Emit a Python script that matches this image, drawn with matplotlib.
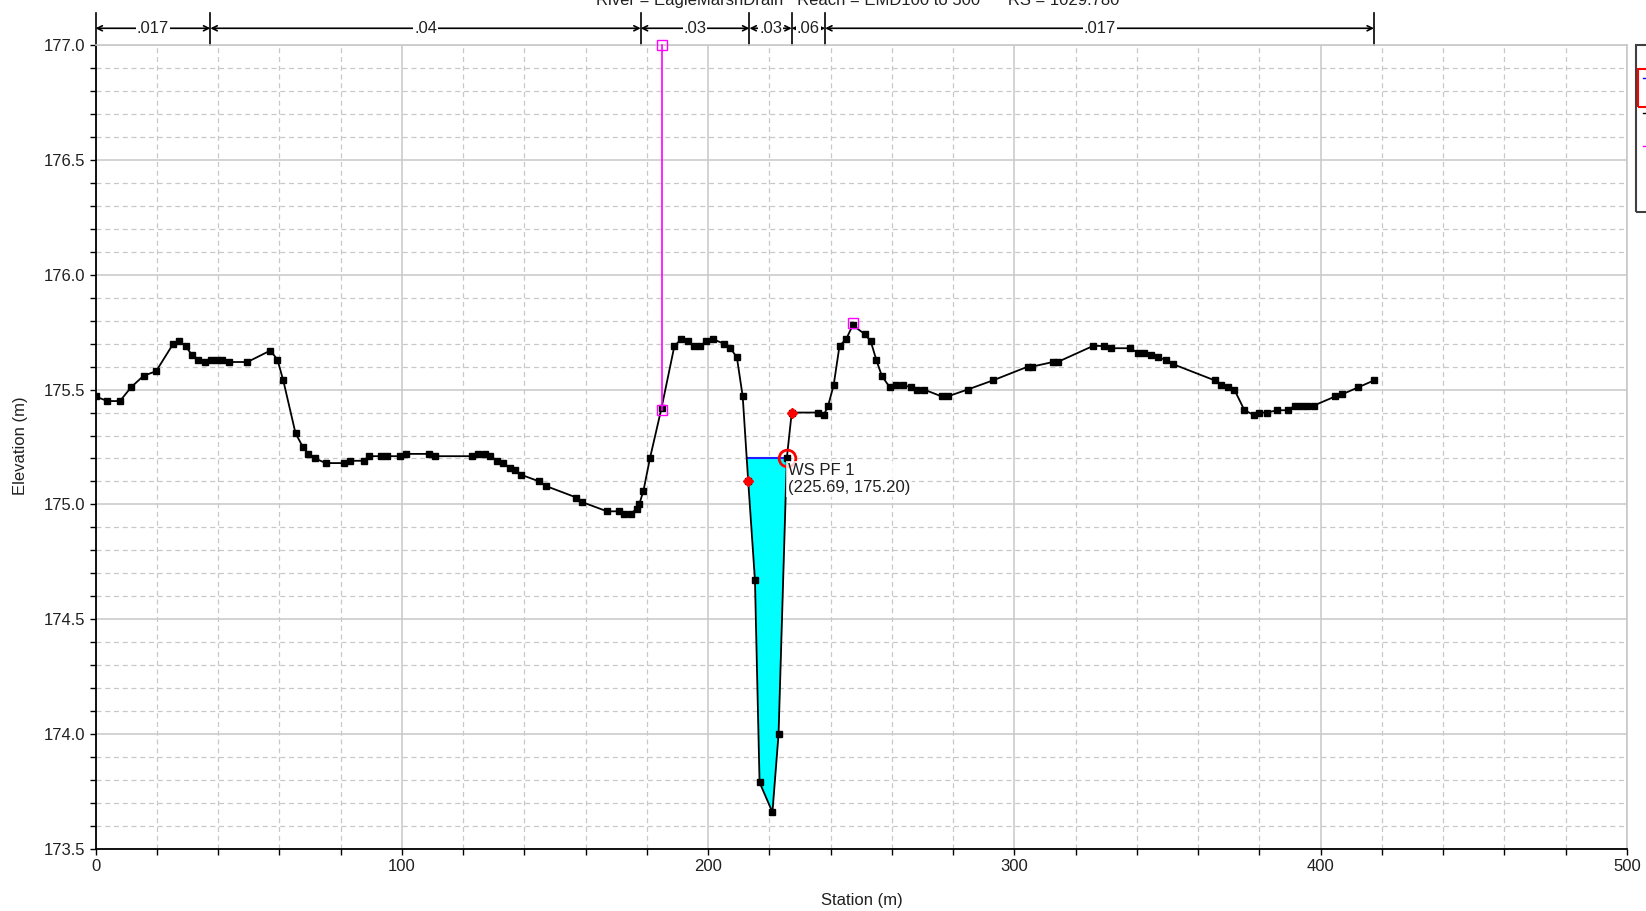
import numpy as np
import matplotlib
matplotlib.use('Agg')
import matplotlib.pyplot as plt
from matplotlib.patches import Rectangle
from matplotlib.ticker import MultipleLocator, FormatStrFormatter

# ---------------- data ----------------
station = [0, 3.9, 8.0, 11.6, 15.7, 19.8, 25.4, 27.3, 29.4, 31.5, 33.6, 35.6, 37.6, 39.7,
           41.4, 43.5, 49.6, 57.1, 59.4, 61.3, 65.3, 67.7, 69.5, 71.8, 75.1, 81.0, 83.1,
           87.6, 89.2, 93.3, 95.2, 99.3, 101.3, 109.0, 111.0, 122.8, 125.0, 127.0, 128.9,
           131.2, 133.1, 135.3, 137.0, 138.8, 144.9, 147.1, 157.0, 158.9, 167.0, 170.8,
           172.7, 174.7, 176.7, 177.5, 178.9, 181.0, 184.8, 189.0, 191.3, 193.5, 195.5,
           197.4, 199.4, 201.5, 205.1, 207.3, 209.4, 211.3, 213.1, 215.3, 216.8, 221.0,
           223.0, 225.69, 227.3, 236.0, 237.8, 239.2, 241.0, 242.9, 245.1, 247.2, 251.3,
           253.1, 254.9, 256.7, 259.3, 261.3, 263.7, 266.1, 268.3, 270.5, 276.3, 278.2,
           284.7, 293.0, 304.4, 305.8, 312.6, 314.1, 325.7, 329.4, 331.5, 337.8, 340.3,
           342.4, 344.6, 346.8, 349.4, 351.9, 365.4, 367.6, 369.8, 371.8, 375.1, 378.1,
           379.9, 382.4, 385.8, 389.2, 391.6, 393.6, 395.5, 397.7, 404.7, 407.1, 412.3,
           417.4]
elevation = [175.47, 175.45, 175.45, 175.51, 175.56, 175.58, 175.70, 175.71, 175.69, 175.65,
             175.63, 175.62, 175.63, 175.63, 175.63, 175.62, 175.62, 175.67, 175.63, 175.54,
             175.31, 175.25, 175.22, 175.20, 175.18, 175.18, 175.19, 175.19, 175.21, 175.21,
             175.21, 175.21, 175.22, 175.22, 175.21, 175.21, 175.22, 175.22, 175.21, 175.19,
             175.18, 175.16, 175.15, 175.13, 175.10, 175.08, 175.03, 175.01, 174.97, 174.97,
             174.96, 174.96, 174.98, 175.00, 175.06, 175.20, 175.42, 175.69, 175.72, 175.71,
             175.69, 175.69, 175.71, 175.72, 175.70, 175.68, 175.64, 175.47, 175.10, 174.67,
             173.79, 173.66, 174.00, 175.20, 175.40, 175.40, 175.39, 175.43, 175.52, 175.69,
             175.72, 175.78, 175.74, 175.71, 175.63, 175.56, 175.51, 175.52, 175.52, 175.51,
             175.50, 175.50, 175.47, 175.47, 175.50, 175.54, 175.60, 175.60, 175.62, 175.62,
             175.69, 175.69, 175.68, 175.68, 175.66, 175.66, 175.65, 175.64, 175.63, 175.61,
             175.54, 175.52, 175.51, 175.50, 175.41, 175.39, 175.40, 175.40, 175.41, 175.41,
             175.43, 175.43, 175.43, 175.43, 175.47, 175.48, 175.51, 175.54]

bank_station = [213.1, 227.3]
bank_elev = [175.10, 175.40]

levee_left_station = 185.0
levee_left_elev = [175.41, 177.0]
levee_right_station = [247.2]
levee_right_elev = [175.79]

ws_elev = 175.20
ws_right = 225.69

n_bounds = [0, 37.5, 178.0, 213.5, 227.3, 238.2, 417.4]
n_values = ['.017', '.04', '.03', '.03', '.06', '.017']

title = 'River = EagleMarshDrain   Reach = EMD100 to 500      RS = 1029.780'

# ---------------- figure ----------------
W, H = 1646, 911
FS = 12
plt.rcParams['font.family'] = ['Liberation Sans', 'DejaVu Sans']
fig = plt.figure(figsize=(W / 100, H / 100), dpi=100)
ax = fig.add_axes([95.5 / W, 1 - 849 / H, (1627 - 95.5) / W, (849 - 45) / H])

ax.set_xlim(0, 500)
ax.set_ylim(173.5, 177.0)
ax.xaxis.set_major_locator(MultipleLocator(100))
ax.xaxis.set_minor_locator(MultipleLocator(20))
ax.yaxis.set_major_locator(MultipleLocator(0.5))
ax.yaxis.set_minor_locator(MultipleLocator(0.1))
ax.yaxis.set_major_formatter(FormatStrFormatter('%.1f'))
ax.set_axisbelow(True)
ax.grid(which='major', color='#c8c8c8', lw=1.1, ls='-')
ax.grid(which='minor', color='#c8c8c8', lw=0.9, ls=(0, (4, 3)))
ax.tick_params(which='both', direction='out', length=4, width=1, color='black',
               labelsize=FS, labelcolor='#202020')
for s in ('top', 'right'):
    ax.spines[s].set_color('#c8c8c8')
    ax.spines[s].set_linewidth(1.2)
for s in ('left', 'bottom'):
    ax.spines[s].set_color('black')
    ax.spines[s].set_linewidth(1.3)

st = np.array(station)
el = np.array(elevation)

# water fill in the channel
i0 = int(np.searchsorted(st, 211.0))
i1 = int(np.searchsorted(st, ws_right)) + 1
seg_s = st[i0:i1]
seg_e = el[i0:i1]
k = int(np.argmax(seg_e < ws_elev))
ws_left = np.interp(ws_elev, [seg_e[k], seg_e[k - 1]], [seg_s[k], seg_s[k - 1]])
ax.fill_between(seg_s, seg_e, ws_elev, where=seg_e <= ws_elev + 1e-9, interpolate=True,
                color='#00ffff', lw=0, zorder=2)
ax.plot([ws_left, ws_right], [ws_elev, ws_elev], color='#2020ff', lw=1.5, zorder=3)

# ground
ax.plot(st, el, color='black', lw=1.3, marker='s', ms=5, zorder=4)
# bank stations
ax.plot(bank_station, bank_elev, ls='none', marker='D', ms=5, color='red', zorder=5)
# levees
ax.plot([levee_left_station] * 2, levee_left_elev, color='magenta', lw=1.2,
        marker='s', ms=6.5, mfc='none', mec='magenta', zorder=5, clip_on=False)
ax.plot(levee_right_station, levee_right_elev, ls='none', marker='s', ms=6.5, mfc='none',
        mec='magenta', zorder=5)

# cursor annotation
ax.plot([ws_right], [ws_elev], ls='none', marker='o', ms=12, mfc='none', mec='red',
        mew=2, zorder=6)
ax.text(ws_right + 0.3, ws_elev - 0.02, 'WS PF 1\n(225.69, 175.20)', fontsize=FS,
        ha='left', va='top', color='#202020', linespacing=1.2, zorder=6,
        bbox=dict(facecolor='white', edgecolor='none', alpha=0.8, pad=1.5))

# n-value bars above the plot
tr = ax.get_xaxis_transform()
ybar = 1.0208
for b in n_bounds:
    ax.plot([b, b], [1.0, 1.0403], transform=tr, clip_on=False, color='black', lw=1.2)
for j, nv in enumerate(n_values):
    a, b = n_bounds[j], n_bounds[j + 1]
    ax.annotate('', xy=(a, ybar), xytext=(b, ybar), xycoords=tr, textcoords=tr,
                arrowprops=dict(arrowstyle='<->', lw=1.2, color='black',
                                shrinkA=0, shrinkB=0, mutation_scale=9),
                annotation_clip=False)
    ax.text((a + b) / 2, ybar, nv, transform=tr, ha='center', va='center',
            fontsize=FS, color='#202020', clip_on=False,
            bbox=dict(facecolor='white', edgecolor='none', pad=0.6))

# labels
fig.text(862 / W, 1 - 900 / H, 'Station (m)', ha='center', va='center', fontsize=FS,
         color='#202020')
fig.text(21 / W, 1 - 446 / H, 'Elevation (m)', ha='center', va='center', rotation=90,
         fontsize=FS, color='#202020')
# title sits partly above the top edge, as in the reference
fig.text(858 / W, 1 - 5 / H, title, ha='center', va='baseline', fontsize=FS,
         color='#202020')

# legend box (cut off at right edge)
def fig_rect(x0, y0, x1, y1, **kw):
    fig.add_artist(Rectangle((x0 / W, 1 - y1 / H), (x1 - x0) / W, (y1 - y0) / H,
                             transform=fig.transFigure, **kw))

fig_rect(1636, 45, 1660, 212, fill=False, ec='#404040', lw=1.5)
fig_rect(1638, 69, 1660, 107, fill=False, ec='red', lw=1.5)
fig.add_artist(plt.Line2D([1643 / W, 1646 / W], [1 - 78 / H] * 2, transform=fig.transFigure,
                          color='blue', lw=1))
fig.add_artist(plt.Line2D([1643 / W, 1646 / W], [1 - 113 / H] * 2, transform=fig.transFigure,
                          color='black', lw=1))
fig.add_artist(plt.Line2D([1643 / W, 1646 / W], [1 - 146 / H] * 2, transform=fig.transFigure,
                          color='magenta', lw=1))

fig.savefig('out.png', dpi=100)
